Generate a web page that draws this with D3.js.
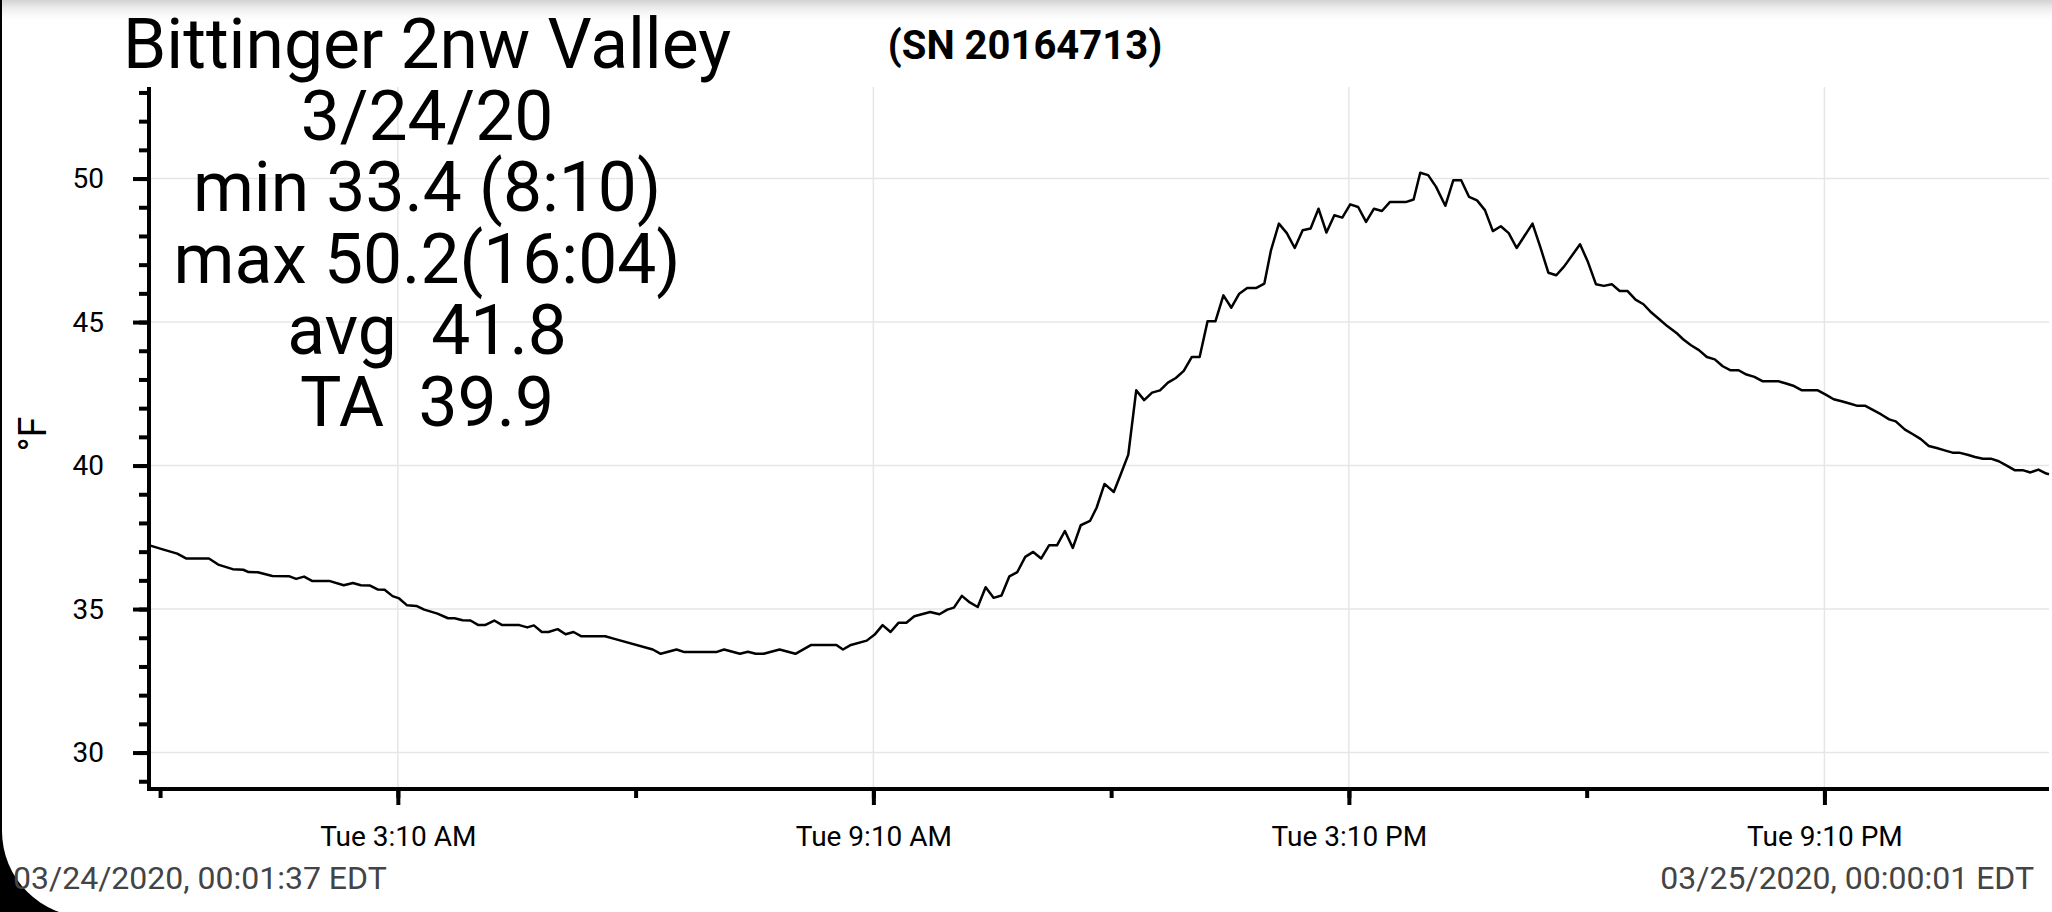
<!DOCTYPE html>
<html>
<head>
<meta charset="utf-8">
<script src="https://cdn.jsdelivr.net/npm/d3@7"></script>
<style>
  html, body { margin: 0; padding: 0; background: #000; }
  svg { display: block; font-family: Roboto, "Noto Sans", sans-serif; }
  .axis path, .axis line { stroke: #000; }
  .axis text { fill: #000; font-size: 28px; font-family: Roboto, sans-serif; }
</style>
</head>
<body>
<svg id="chart" width="2052" height="912"></svg>
<script>

// Logger readings for 3/24/20 (°F).
const startStamp = '2020-03-24 00:01:37';
const endStamp = '2020-03-25 00:00:01';
const startTemp = 37.25;
const endTemp = 39.70;

const times = [
  '00:02', '00:12', '00:23', '00:30', '00:47', '00:54', '01:05', '01:13', '01:17', '01:24',
  '01:35', '01:48', '01:53', '01:59', '02:05', '02:18', '02:29', '02:36', '02:42', '02:49',
  '02:55', '03:00', '03:06', '03:11', '03:17', '03:24', '03:30', '03:40', '03:48', '03:53',
  '03:59', '04:05', '04:11', '04:16', '04:23', '04:29', '04:42', '04:48', '04:53', '04:59',
  '05:04', '05:11', '05:17', '05:23', '05:29', '05:47', '05:54', '06:23', '06:29', '06:41',
  '06:47', '07:11', '07:17', '07:29', '07:35', '07:41', '07:47', '07:59', '08:11', '08:23',
  '08:42', '08:47', '08:53', '09:05', '09:11', '09:17', '09:23', '09:29', '09:35', '09:41',
  '09:53', '10:00', '10:06', '10:11', '10:17', '10:23', '10:29', '10:35', '10:41', '10:47',
  '10:53', '10:59', '11:05', '11:11', '11:17', '11:23', '11:29', '11:35', '11:41', '11:47',
  '11:54', '11:59', '12:05', '12:12', '12:17', '12:23', '12:29', '12:35', '12:41', '12:47',
  '12:53', '12:59', '13:05', '13:11', '13:17', '13:23', '13:29', '13:35', '13:41', '13:47',
  '13:53', '14:00', '14:06', '14:11', '14:17', '14:23', '14:29', '14:35', '14:41', '14:47',
  '14:53', '14:59', '15:05', '15:11', '15:17', '15:23', '15:29', '15:35', '15:41', '15:53',
  '15:59', '16:04', '16:10', '16:16', '16:23', '16:29', '16:35', '16:41', '16:47', '16:53',
  '16:59', '17:05', '17:11', '17:17', '17:29', '17:35', '17:41', '17:47', '17:53', '18:05',
  '18:11', '18:17', '18:23', '18:29', '18:35', '18:41', '18:47', '18:53', '18:59', '19:05',
  '19:11', '19:18', '19:23', '19:29', '19:35', '19:41', '19:47', '19:53', '19:59', '20:05',
  '20:11', '20:17', '20:23', '20:35', '20:41', '20:47', '20:53', '21:05', '21:11', '21:17',
  '21:23', '21:29', '21:35', '21:41', '21:47', '21:53', '21:59', '22:04', '22:11', '22:17',
  '22:23', '22:29', '22:35', '22:41', '22:47', '22:52', '22:59', '23:04', '23:10', '23:16',
  '23:22', '23:28', '23:34', '23:40', '23:46', '23:52', '23:58'
];

const temps = [
  37.22, 37.08, 36.93, 36.76, 36.76, 36.55, 36.39, 36.37, 36.29, 36.28,
  36.15, 36.14, 36.05, 36.13, 35.98, 35.98, 35.83, 35.91, 35.83, 35.82,
  35.68, 35.67, 35.45, 35.37, 35.13, 35.11, 34.98, 34.84, 34.68, 34.68,
  34.61, 34.60, 34.44, 34.44, 34.60, 34.44, 34.44, 34.36, 34.43, 34.20,
  34.20, 34.30, 34.12, 34.20, 34.05, 34.05, 33.96, 33.59, 33.44, 33.59,
  33.50, 33.50, 33.59, 33.44, 33.51, 33.44, 33.44, 33.59, 33.44, 33.75,
  33.75, 33.59, 33.75, 33.90, 34.11, 34.44, 34.20, 34.52, 34.52, 34.75,
  34.90, 34.82, 34.98, 35.05, 35.46, 35.23, 35.07, 35.76, 35.39, 35.47,
  36.14, 36.29, 36.82, 36.99, 36.76, 37.22, 37.22, 37.72, 37.13, 37.92,
  38.07, 38.53, 39.36, 39.08, 39.66, 40.38, 42.62, 42.28, 42.54, 42.62,
  42.89, 43.05, 43.30, 43.78, 43.78, 45.03, 45.03, 45.93, 45.50, 45.99,
  46.19, 46.19, 46.34, 47.50, 48.43, 48.10, 47.58, 48.20, 48.26, 48.95,
  48.12, 48.72, 48.64, 49.10, 49.01, 48.49, 48.95, 48.87, 49.18, 49.18,
  49.27, 50.20, 50.12, 49.71, 49.05, 49.94, 49.94, 49.36, 49.24, 48.90,
  48.17, 48.34, 48.10, 47.58, 48.43, 47.60, 46.72, 46.63, 46.94, 47.71,
  47.09, 46.32, 46.26, 46.32, 46.08, 46.08, 45.78, 45.62, 45.33, 45.10,
  44.86, 44.62, 44.40, 44.19, 44.02, 43.78, 43.70, 43.46, 43.32, 43.32,
  43.17, 43.09, 42.94, 42.94, 42.86, 42.77, 42.62, 42.62, 42.47, 42.31,
  42.24, 42.16, 42.08, 42.08, 41.93, 41.78, 41.61, 41.54, 41.25, 41.09,
  40.92, 40.68, 40.61, 40.53, 40.45, 40.45, 40.37, 40.30, 40.24, 40.24,
  40.15, 40.00, 39.84, 39.84, 39.76, 39.86, 39.72
];

// Tick labels and summary text.
const yMajorTicks = [30, 35, 40, 45, 50];
const xTickStamps = ['00:10', '03:10', '06:10', '09:10', '12:10', '15:10', '18:10', '21:10'];
const xLabelStamps = ['03:10', '09:10', '15:10', '21:10'];
const titleLines = ['Bittinger 2nw Valley', '3/24/20', 'min 33.4 (8:10)', 'max 50.2(16:04)', 'avg  41.8', 'TA  39.9'];
const serial = '(SN 20164713)';
const unitLabel = '°F';
const firstStamp = '03/24/2020, 00:01:37 EDT';
const lastStamp = '03/25/2020, 00:00:01 EDT';


const W = 2052, H = 912;
const plot = { left: 149, right: 2049, top: 87, bottom: 789 };

const parseFull = d3.timeParse('%Y-%m-%d %H:%M:%S');
const parseTime = d3.timeParse('%Y-%m-%d %H:%M');
const onDay = s => parseTime('2020-03-24 ' + s);

const data = [{ t: parseFull(startStamp), v: startTemp }]
  .concat(times.map((s, i) => ({ t: onDay(s), v: temps[i] })))
  .concat([{ t: parseFull(endStamp), v: endTemp }]);

const x = d3.scaleTime()
  .domain([parseFull(startStamp), parseFull(endStamp)])
  .range([plot.left, plot.right]);

const y = d3.scaleLinear()
  .domain([28.73, 53.19])
  .range([plot.bottom, plot.top]);

const svg = d3.select('#chart');

// Phone screenshot frame: black edge with a rounded bottom-left corner.
svg.append('rect').attr('width', W).attr('height', H).attr('fill', '#000');
svg.append('path')
  .attr('d', `M2,0 H${W} V${H + 5} H88 A86,86 0 0 1 2,${H - 81} Z`)
  .attr('fill', '#fff');

let defs = svg.append('defs');
let grad = defs.append('linearGradient')
  .attr('id', 'topShade').attr('x1', 0).attr('y1', 0).attr('x2', 0).attr('y2', 1);
grad.append('stop').attr('offset', '0%').attr('stop-color', '#d2d2d2');
grad.append('stop').attr('offset', '25%').attr('stop-color', '#e6e6e6');
grad.append('stop').attr('offset', '100%').attr('stop-color', '#fff').attr('stop-opacity', 0);
svg.append('rect').attr('x', 2).attr('width', W).attr('height', 24).attr('fill', 'url(#topShade)');

// Grid.
let grid = svg.append('g').attr('stroke', '#e6e6e6').attr('stroke-width', 1.5);
grid.selectAll('.h').data(yMajorTicks).join('line')
  .attr('x1', plot.left).attr('x2', plot.right)
  .attr('y1', d => y(d)).attr('y2', d => y(d));
grid.selectAll('.v').data(xLabelStamps).join('line')
  .attr('x1', d => x(onDay(d))).attr('x2', d => x(onDay(d)))
  .attr('y1', plot.top).attr('y2', plot.bottom);

// Y axis: minor ticks every degree, labelled ticks every five.
svg.append('g').attr('class', 'axis')
  .attr('transform', `translate(${plot.left},0)`)
  .call(d3.axisLeft(y).tickValues(d3.range(29, 54)).tickSize(10).tickFormat(''))
  .call(g => g.selectAll('line').attr('stroke-width', 4))
  .call(g => g.select('.domain').remove());

svg.append('g').attr('class', 'axis')
  .attr('transform', `translate(${plot.left},0)`)
  .call(d3.axisLeft(y).tickValues(yMajorTicks).tickSize(16).tickPadding(29).tickSizeOuter(0))
  .call(g => g.selectAll('line').attr('stroke-width', 4))
  .call(g => g.select('.domain').remove());

// X axis: short ticks every three hours, long labelled ones every six.
const fmt = d3.timeFormat('%a %-I:%M %p');
svg.append('g').attr('class', 'axis')
  .attr('transform', `translate(0,${plot.bottom})`)
  .call(d3.axisBottom(x).tickValues(xTickStamps.map(onDay)).tickSize(9).tickFormat(''))
  .call(g => g.selectAll('line').attr('stroke-width', 4))
  .call(g => g.select('.domain').remove());

svg.append('g').attr('class', 'axis')
  .attr('transform', `translate(0,${plot.bottom})`)
  .call(d3.axisBottom(x).tickValues(xLabelStamps.map(onDay)).tickSize(16).tickPadding(21).tickFormat(fmt))
  .call(g => g.selectAll('line').attr('stroke-width', 4))
  .call(g => g.select('.domain').remove());

// Axis lines.
svg.append('path')
  .attr('d', `M${plot.left},${plot.top} V${plot.bottom} H${plot.right}`)
  .attr('fill', 'none').attr('stroke', '#000').attr('stroke-width', 4);

// The temperature trace.
svg.append('path')
  .datum(data)
  .attr('fill', 'none')
  .attr('stroke', '#000')
  .attr('stroke-width', 2.5)
  .attr('stroke-linejoin', 'round')
  .attr('d', d3.line().x(d => x(d.t)).y(d => y(d.v)));

// Summary block.
svg.append('g').selectAll('text').data(titleLines).join('text')
  .attr('x', 427)
  .attr('y', (d, i) => 68 + i * 71.6)
  .attr('text-anchor', 'middle')
  .attr('font-size', 69.5)
  .attr('fill', '#000')
  .style('white-space', 'pre')
  .text(d => d);

svg.append('text')
  .attr('x', 1025).attr('y', 59)
  .attr('text-anchor', 'middle')
  .attr('font-size', 40).attr('font-weight', 'bold')
  .text(serial);

svg.append('text')
  .attr('transform', 'translate(46,434) rotate(-90)')
  .attr('text-anchor', 'middle')
  .attr('font-size', 38)
  .text(unitLabel);

// Time range stamps.
svg.append('text')
  .attr('x', 13).attr('y', 889)
  .attr('font-size', 32).attr('fill', '#444')
  .text(firstStamp);

svg.append('text')
  .attr('x', 2034).attr('y', 889)
  .attr('text-anchor', 'end')
  .attr('font-size', 32).attr('fill', '#444')
  .text(lastStamp);

</script>
</body>
</html>
